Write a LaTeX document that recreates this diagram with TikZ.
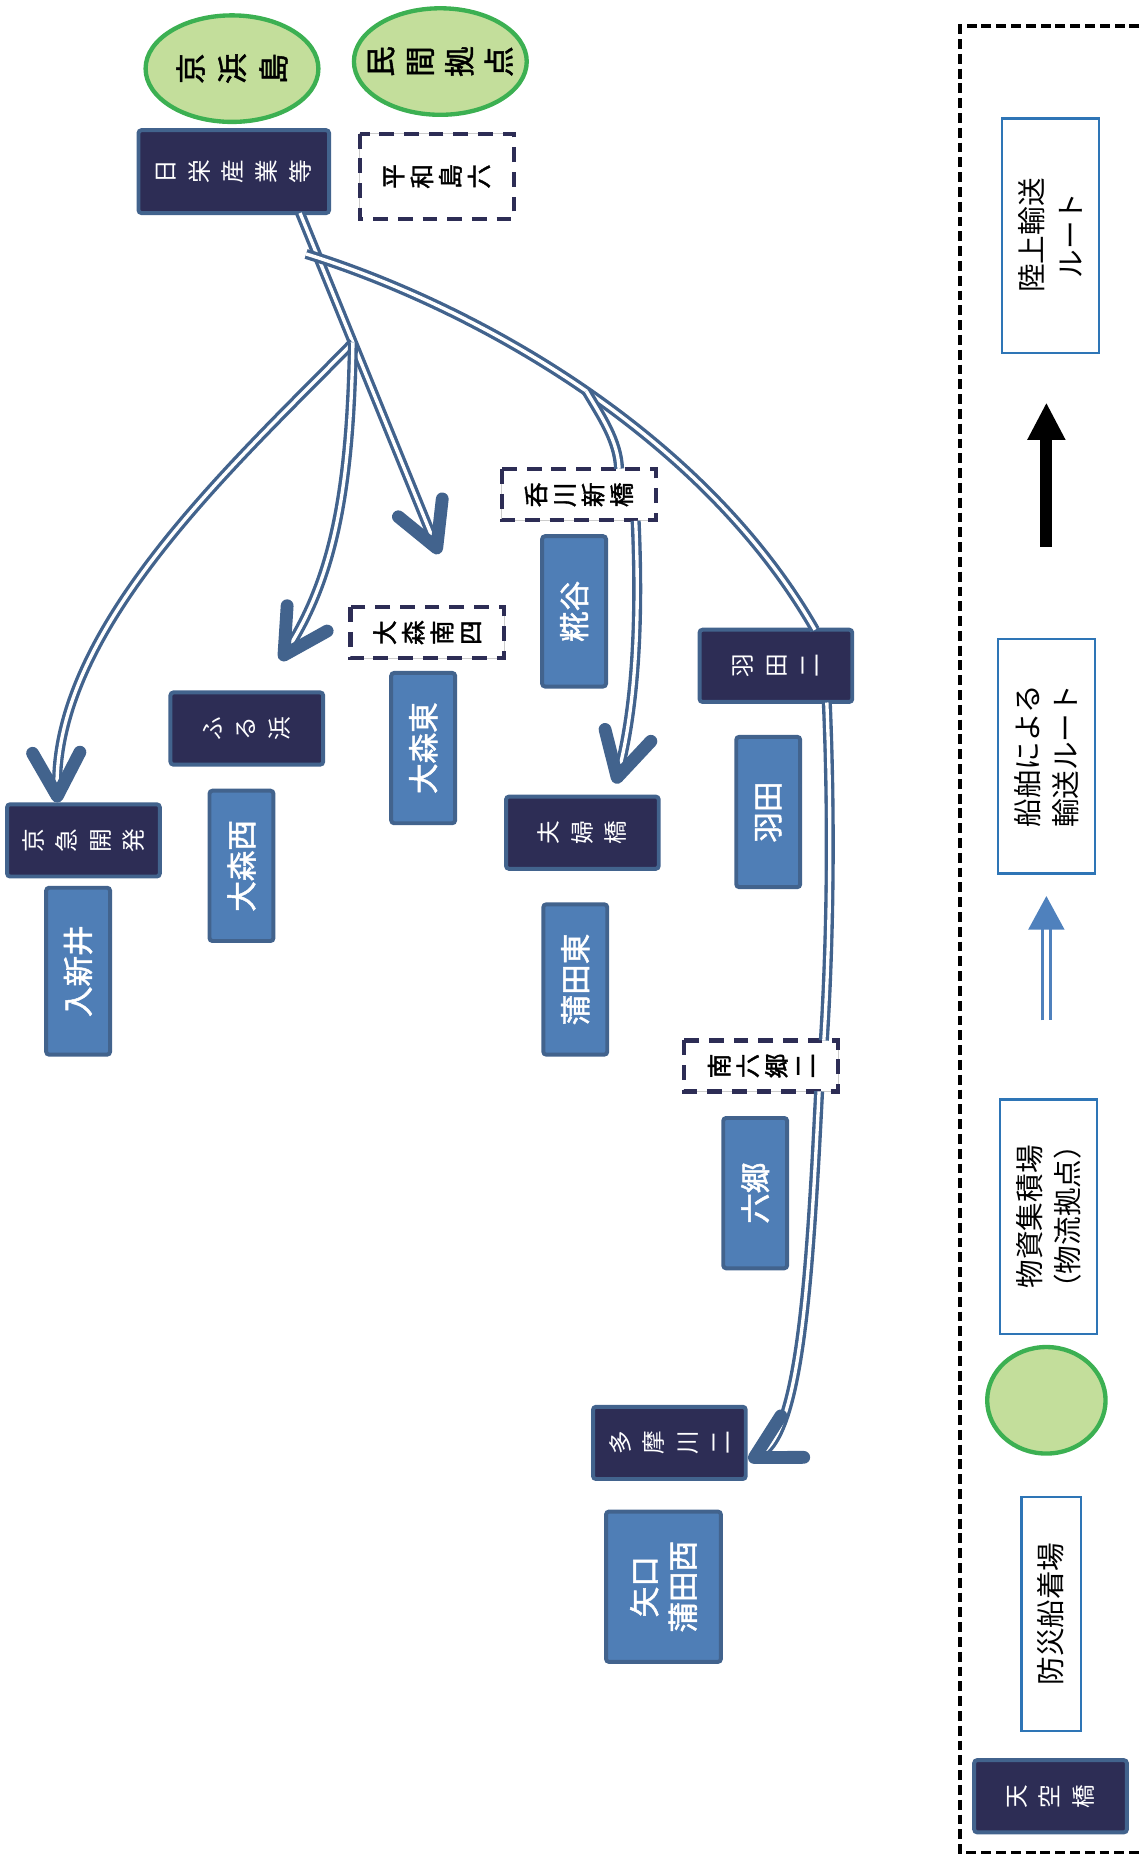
\documentclass[tikz,border=0pt]{standalone}
\usepackage{fontspec}
\setmainfont{Noto Sans CJK JP}
\newfontfamily\firm{Noto Sans CJK JP}[FakeBold=1.6]
\usetikzlibrary{calc, shapes.geometric, arrows.meta}

\definecolor{navy}{RGB}{45,45,85}
\definecolor{edgeblue}{RGB}{66,99,141}
\definecolor{boxblue}{RGB}{79,126,182}
\definecolor{leafgreen}{RGB}{195,222,155}
\definecolor{rimgreen}{RGB}{60,176,82}
\definecolor{keyblue}{RGB}{46,117,182}
\definecolor{shipblue}{RGB}{79,129,189}

\tikzset{
  navybox/.style={rotate=90, draw=edgeblue, fill=navy, line width=2pt, rounded corners=1.5pt,
    text=white, align=center, inner sep=0pt, font=\fontsize{12}{17}\selectfont,
    minimum width=36.6pt, minimum height=77.4pt},
  bluebox/.style={rotate=90, draw=edgeblue, fill=boxblue, line width=2pt, rounded corners=1.5pt,
    text=white, align=center, inner sep=0pt, font=\firm\fontsize{15.5}{19.5}\selectfont,
    minimum width=76.2pt, minimum height=32.4pt},
  dashbox/.style={rotate=90, draw=navy, fill=white, line width=2.2pt, dash pattern=on 7.5pt off 5pt,
    preaction={draw=black!20, line width=0.5pt, solid},
    align=center, inner sep=0pt, font=\firm\fontsize{12.5}{14.5}\selectfont,
    minimum width=25.8pt, minimum height=78pt},
  depot/.style={rotate=90, ellipse, draw=rimgreen, fill=leafgreen, line width=2.2pt,
    align=center, inner sep=-10pt, font=\firm\fontsize{15.5}{21}\selectfont,
    minimum width=54pt, minimum height=87.6pt},
  keybox/.style={rotate=90, draw=keyblue, fill=white, line width=1.2pt,
    align=center, inner sep=0pt, font=\fontsize{14.5}{19.5}\selectfont,
    minimum width=118.8pt, minimum height=49.2pt},
  ship/.style={draw=edgeblue, double=white, double distance=1.7pt, line width=1.7pt},
  shiphead/.style={-{Straight Barb[length=22pt, width=24pt, line width=6.5pt, round]}},
  landarrow/.style={line width=6pt, -{Triangle[length=19pt, width=18pt]}},
  shipkey/.style={draw=shipblue, double=white, double distance=2.2pt, line width=1.7pt,
    -{Triangle[length=17pt, width=18pt]}},
  keyframe/.style={line width=1.8pt, dash pattern=on 5pt off 2.5pt}
}

\begin{document}
\begin{tikzpicture}[x=0.6pt, y=-0.6pt]
  \useasboundingbox (0,0) rectangle (966,1568);

  % depots
  \node[depot] (keihinjima) at (196,58) {京\\浜\\島};
  \node[depot, font=\firm\fontsize{15.5}{20}\selectfont] (minkan) at (372,52) {民\\間\\拠\\点};

  % landing piers
  \node[navybox, minimum width=42pt, minimum height=96.6pt] (nichiei) at (197.5,145) {日\\栄\\産\\業\\等};
  \node[navybox] (keikyu) at (70.5,710) {京\\急\\開\\発};
  \node[navybox] (furuhama) at (208.5,615.5) {ふ\\る\\浜};
  \node[navybox] (fufubashi) at (492,703.5) {夫\\婦\\橋};
  \node[navybox] (haneda2) at (655.5,562.5) {羽\\田\\二};
  \node[navybox] (tamagawa2) at (565.5,1219) {多\\摩\\川\\二};

  \node[dashbox, minimum width=43.2pt] (heiwajima) at (369,149) {平\\和\\島\\六};
  \node[dashbox] (omoriminami) at (361,534.5) {大\\森\\南\\四};
  \node[dashbox] (nomikawa) at (489,418) {呑\\川\\新\\橋};
  \node[dashbox] (minamirokugo) at (643,900.5) {南\\六\\郷\\二};

  % districts
  \node[bluebox, minimum width=84.6pt] (irikarai) at (66,820.5) {入新井};
  \node[bluebox] (omorinishi) at (204,731.5) {大森西};
  \node[bluebox] (omorihigashi) at (357.5,632) {大森東};
  \node[bluebox] (kojiya) at (485,516.5) {糀谷};
  \node[bluebox] (kamatahigashi) at (486,827.5) {蒲田東};
  \node[bluebox] (haneda) at (649,686) {羽田};
  \node[bluebox] (rokugo) at (638,1008) {六郷};
  \node[bluebox, minimum height=58.2pt] (yaguchi) at (560.5,1340.5) {矢口\\蒲田西};

  % ship routes
  \coordinate (nStart) at ($(nichiei.center)+(56,35)$);
  \coordinate (tipOmoriE) at (371,468);
  \coordinate (J1) at ($(nStart)!0.38!(tipOmoriE)$);
  \coordinate (J0) at ($(nStart)!0.12!(tipOmoriE)+(-9,0)$);
  \coordinate (tipKeikyu) at ($(keikyu.center)+(-22,-32)$);
  \coordinate (tipFuru) at (237,558);
  \coordinate (tipFufu) at (520,662);
  \coordinate (tipTama) at ($(tamagawa2.center)+(67,15)$);

  \draw[ship, shiphead] (nStart) -- (tipOmoriE);
  \draw[ship, shiphead] (J1) .. controls (200,390) and (45,530) .. (tipKeikyu);
  \draw[ship, shiphead] (J1) .. controls (296,420) and (280,490) .. (tipFuru);
  \draw[ship] (J0) .. controls (390,255) and (590,360) .. ($(haneda2.center)+(33,-30.5)$) coordinate[pos=0.52] (J2);
  \draw[ship] (J2) .. controls (508,352) and (522,372) .. ($(nomikawa.center)+(34,-22)$);
  \draw[ship, shiphead] ($(nomikawa.center)+(48,22)$) .. controls (541,530) and (536,600) .. (tipFufu);
  \draw[ship] ($(haneda2.center)+(43,31)$) .. controls (703,700) and (701,800) .. ($(minamirokugo.center)+(53,-21.5)$);
  \draw[ship, shiphead] ($(minamirokugo.center)+(49,21.5)$) .. controls (684,1080) and (676,1210) .. (tipTama);

  % legend
  \draw[keyframe] (975,22) -- (811,22) -- (811,1565) -- (975,1565);
  \node[keybox] (rikujo) at (887.5,199) {陸上輸送\\ルート};
  \coordinate (landFrom) at (884,462);
  \coordinate (landTo) at (884,340);
  \draw[landarrow] (landFrom) -- (landTo);
  \node[keybox] (senpaku) at (884,639) {船舶による\\輸送ルート};
  \coordinate (shipFrom) at (884,862);
  \coordinate (shipTo) at (884,757);
  \draw[shipkey] (shipFrom) -- (shipTo);
  \node[keybox] (busshi) at (886,1028) {物資集積場\\（物流拠点）};
  \node[depot, minimum width=54pt, minimum height=60pt] (keyDepot) at (884,1183) {};
  \node[keybox, minimum height=30pt] (bousai) at (888,1363.5) {防災船着場};
  \node[navybox] (tenku) at (887.5,1517.5) {天\\空\\橋};
\end{tikzpicture}
\end{document}
